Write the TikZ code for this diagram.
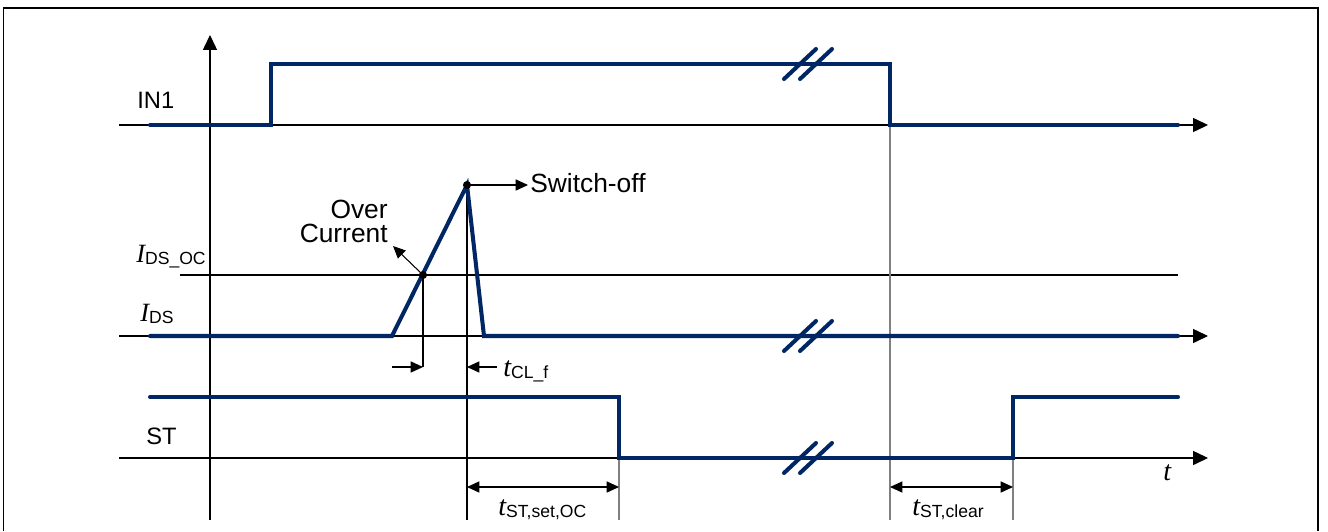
\documentclass[tikz,border=0pt]{standalone}
\usepackage{fontspec}
\setmainfont{Liberation Sans}
\newfontfamily\tmsfont{Liberation Serif}
\usepackage{xcolor}
\usepackage{tikz}
\usetikzlibrary{positioning, arrows.meta}

\definecolor{sigblue}{RGB}{0,38,100}
% italic symbol with sans subscript
\newcommand{\symsub}[3][15]{{\fontsize{#1}{#1}\tmsfont\itshape #2}\raisebox{-1.5pt}{\fontsize{10}{10}\selectfont #3}}

\begin{document}
\begin{tikzpicture}[x=0.02cm, y=-0.02cm,
    sig/.style={line width=2.3pt, sigblue, line cap=round, line join=miter},
    brk/.style={line width=2.3pt, sigblue, line cap=round},
    axis/.style={line width=0.6pt, -{Triangle[length=8.5pt,width=8pt]}},
    thin/.style={line width=0.6pt},
    guide/.style={line width=0.6pt, gray},
    ptr/.style={line width=0.6pt, -{Triangle[length=7pt,width=6.3pt]}},
    dim/.style={line width=0.6pt, {Triangle[length=7pt,width=6.3pt]}-{Triangle[length=7pt,width=6.3pt]}},
    lbl/.style={font=\fontsize{13.5}{15}\selectfont, inner sep=0pt},
    big/.style={font=\fontsize{15}{13.6}\selectfont, inner sep=0pt}]
    \useasboundingbox (0,0) rectangle (1328,531);
    % frame
    \draw[line width=1.1pt] (3.5,531) -- (3.5,8) -- (1318,8) -- (1318,531);

    % axes
    \coordinate (Y0) at (210,520);
    \coordinate (Y1) at (210,35);
    \draw[axis] (Y0) -- (Y1);
    \coordinate (A1) at (119,125);
    \coordinate (Z1) at (1208,125);
    \coordinate (A2) at (119,336);
    \coordinate (Z2) at (1208,336);
    \coordinate (A3) at (119,458);
    \coordinate (Z3) at (1208,458);
    \draw[axis] (A1) -- (Z1);
    \draw[axis] (A2) -- (Z2);
    \draw[axis] (A3) -- (Z3);
    \coordinate (OC0) at (180,275);
    \coordinate (OC1) at (1178,275);
    \draw[thin] (OC0) -- (OC1);

    % key points
    \coordinate (OCP) at (423,275);
    \coordinate (PK) at (467,185);
    \coordinate (OFF) at (890,125);
    \coordinate (STL) at (619,458);
    \coordinate (STH) at (1013,458);

    % guide lines
    \draw[guide] (OFF) -- (890,520);
    \draw[guide] (STL) -- (619,520);
    \draw[guide] (STH) -- (1013,520);
    \draw[thin] (PK) -- (467,520);
    \draw[thin] (OCP) -- (423,367);

    % IN1
    \draw[sig] (150,125) -- (271,125) -- (271,64) -- (890,64) -- (OFF) -- (1178,125);
    % I_DS
    \draw[sig] (150,336) -- (392,336) -- (PK) -- (484,336) -- (1178,336);
    % ST
    \draw[sig] (150,397) -- (619,397) -- (STL) -- (STH) -- (1013,397) -- (1178,397);

    % breaks
    \foreach \y in {64,336,458}
      \foreach \dx in {0,16}
        \draw[brk] (784+\dx,\y+15) -- (816+\dx,\y-15);

    % labels
    \node[lbl, anchor=west] (in1) at (137,100) {IN1};
    \node[lbl, anchor=west] (st) at (146,436) {ST};
    \node[anchor=base west, inner sep=0pt] (idsoc) at (136,262) {\symsub{I}{DS\_OC}};
    \node[anchor=base west, inner sep=0pt] (ids) at (140,321) {\symsub{I}{DS}};
    \node[anchor=base west, inner sep=0pt] (taxis) at (1163,480) {{\fontsize{16}{16}\tmsfont\itshape t}};

    % over current / switch-off
    \node[big, align=right, anchor=east] (ocl) at (388,221) {Over\\Current};
    \coordinate (OCT) at (393,246);
    \draw[ptr] (OCP) -- (OCT);
    \fill (OCP) circle (2.3pt);
    \coordinate (SWT) at (528,185);
    \draw[ptr] (PK) -- (SWT);
    \fill (PK) circle (2.3pt);
    \node[big, anchor=base west] (sw) at (530,192) {Switch-off};

    % t_CL_f
    \coordinate (D1) at (392,367);
    \coordinate (D2) at (423,367);
    \coordinate (D3) at (497,367);
    \coordinate (D4) at (467,367);
    \draw[ptr] (D1) -- (D2);
    \draw[ptr] (D3) -- (D4);
    \node[anchor=base west, inner sep=0pt] (tcl) at (503,376) {\symsub[16]{t}{CL\_f}};

    % t_ST,set,OC and t_ST,clear
    \coordinate (S1) at (467,487);
    \coordinate (S2) at (619,487);
    \draw[dim] (S1) -- (S2);
    \node[anchor=base west, inner sep=0pt] (tset) at (498,515) {\symsub[16]{t}{ST,set,OC}};
    \coordinate (C1) at (890,487);
    \coordinate (C2) at (1013,487);
    \draw[dim] (C1) -- (C2);
    \node[anchor=base west, inner sep=0pt] (tclr) at (912,515) {\symsub[16]{t}{ST,clear}};
\end{tikzpicture}
\end{document}
